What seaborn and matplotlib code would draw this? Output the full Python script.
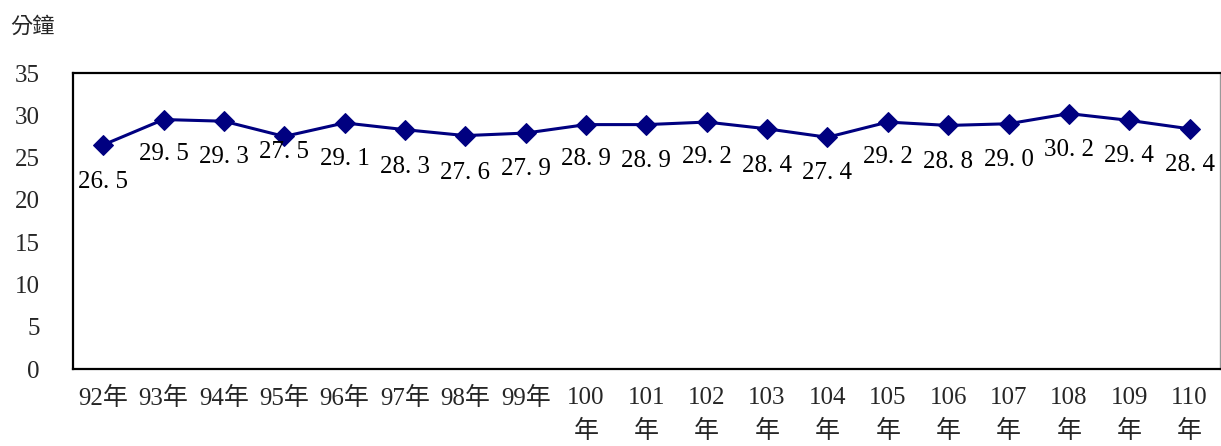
import numpy as np
import pandas as pd
import seaborn as sns
import matplotlib
matplotlib.use("Agg")
import matplotlib.pyplot as plt

# data
years = ["92年", "93年", "94年", "95年", "96年", "97年", "98年", "99年", "100年",
         "101年", "102年", "103年", "104年", "105年", "106年", "107年", "108年", "109年", "110年"]
minutes = [26.5, 29.5, 29.3, 27.5, 29.1, 28.3, 27.6, 27.9, 28.9,
           28.9, 29.2, 28.4, 27.4, 29.2, 28.8, 29.0, 30.2, 29.4, 28.4]
y_ticks = [0, 5, 10, 15, 20, 25, 30, 35]
y_unit = "分鐘"

# label offsets below each point (points), the 95 label sits closer
label_dy = [-27, -25, -26, -11, -26, -27, -27, -26, -25,
            -26, -25, -27, -26, -25, -26, -26, -26, -26, -26]

sns.set_style("white")
fams = ["Liberation Serif", "Noto Sans CJK SC", "DejaVu Sans"]
plt.rcParams["font.family"] = fams

df = pd.DataFrame({"pos": np.arange(len(years)), "val": minutes})

fig = plt.figure(figsize=(12.21, 4.46), dpi=100)
ax = fig.add_axes([0.0598, 0.1726, 0.9392, 0.6637])

sns.lineplot(data=df, x="pos", y="val", ax=ax, color="#000080", linewidth=2.2,
             marker="D", markersize=10, markeredgecolor="#000080")

for i, v in enumerate(minutes):
    txt = ("%.1f" % v).replace(".", ". ")
    ax.annotate(txt, (i, v), xytext=(0, label_dy[i]), textcoords="offset points",
                ha="center", va="center", fontsize=18, color="black")

ax.set_xlim(-0.5, len(years) - 0.5)
ax.set_ylim(0, 35)
ax.set_yticks(y_ticks)
ax.set_yticklabels([str(t) for t in y_ticks], fontsize=18)

# ticks between categories, labels at category centres
ax.set_xticks(np.arange(0.5, len(years) - 0.5, 1.0))
ax.set_xticklabels([])
ax.set_xticks(np.arange(len(years)), minor=True)
xl = [y if len(y) <= 3 else y[:-1] + "\n" + y[-1] for y in years]
ax.set_xticklabels(xl, minor=True, fontsize=18, va="top", linespacing=1.6)
ax.tick_params(axis="x", which="major", direction="in", length=6, width=1, color="black")
ax.tick_params(axis="x", which="minor", length=0, pad=13)
ax.tick_params(axis="y", direction="in", length=6, width=1, color="black", pad=24)
ax.set_xlabel("")
ax.set_ylabel("")

for s in ["top", "left", "bottom"]:
    ax.spines[s].set_color("black")
    ax.spines[s].set_linewidth(1.6)
ax.spines["right"].set_color("#999999")
ax.spines["right"].set_linewidth(1.0)

fig.text(0.008, 0.94, y_unit, fontsize=16, ha="left", va="center",
         family=["Noto Sans CJK TC", "DejaVu Sans"])

fig.savefig("out.png", dpi=100)
